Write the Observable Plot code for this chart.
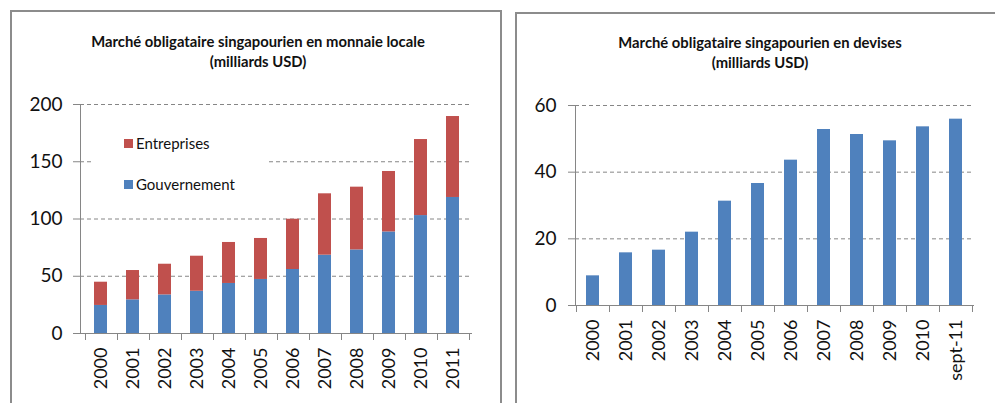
<!DOCTYPE html>
<html>
<head>
<meta charset="utf-8">
<script src="https://cdn.jsdelivr.net/npm/d3@7"></script>
<script src="https://cdn.jsdelivr.net/npm/@observablehq/plot@0.6"></script>
<style>
  html, body { margin: 0; padding: 0; background: #fff; width: 995px; height: 403px; overflow: hidden; font-family: Lato, "DejaVu Sans", sans-serif; }
  .panel { position: absolute; box-sizing: border-box; border: 2px solid #8c8c8c; background: #fff; }
  .title { position: absolute; text-align: center; font-weight: bold; font-size: 14.8px; line-height: 20px; color: #111; }
  .chart { position: absolute; }
  .legend { position: absolute; background: #fff; font-size: 15px; color: #111; }
  .legend .row { position: absolute; left: 0; display: flex; align-items: center; white-space: nowrap; }
  .legend .sw { width: 9px; height: 9px; margin-right: 3px; }
</style>
</head>
<body>
<div class="panel" style="left:10px; top:10px; width:492px; height:500px;"></div>
<div class="panel" style="left:515px; top:12px; width:490px; height:500px;"></div>

<div class="title" style="left:48px; top:31px; width:420px;">Marché obligataire singapourien en monnaie locale<br>(milliards USD)</div>
<div class="title" style="left:550px; top:32px; width:420px;">Marché obligataire singapourien en devises<br>(milliards USD)</div>

<div id="left" class="chart" style="left:12px; top:80px;"></div>
<div id="right" class="chart" style="left:520px; top:80px;"></div>

<div id="legend" class="legend" style="left:93px; top:125px; width:175px; height:75px;"></div>

<script>
// ---- Data ----
const years = ["2000","2001","2002","2003","2004","2005","2006","2007","2008","2009","2010","2011"];
const gouvernement = [24.5, 29.4, 33.7, 36.9, 43.7, 47.2, 55.9, 68.4, 73.0, 88.7, 103.0, 118.8];
const entreprises  = [20.3, 25.6, 26.8, 30.6, 35.8, 35.8, 43.9, 53.6, 54.8, 52.8, 66.4, 70.7];
const seriesNames = ["Gouvernement", "Entreprises"];
const seriesColors = ["#4f81bd", "#c0504d"];
const leftTicks = [0, 50, 100, 150, 200];

const devisesCats = ["2000","2001","2002","2003","2004","2005","2006","2007","2008","2009","2010","sept-11"];
const devises = [8.9, 15.8, 16.6, 22.0, 31.3, 36.6, 43.6, 52.8, 51.3, 49.4, 53.6, 55.9];
const rightTicks = [0, 20, 40, 60];

const axisColor = "#868686";

// Excel-like axis frame: left axis line, bottom axis line, ticks at category boundaries
function excelAxes() {
  return (index, scales, values, dimensions) => {
    const {width, height, marginLeft, marginRight, marginTop, marginBottom} = dimensions;
    const x = scales.x;
    const dom = x.domain();
    const bw = typeof x.bandwidth === "function" ? x.bandwidth() : x.bandwidth;
    const step = dom.length > 1 ? x(dom[1]) - x(dom[0]) : bw;
    const off = (step - bw) / 2;
    const yb = height - marginBottom;
    const g = d3.create("svg:g").attr("stroke", axisColor).attr("stroke-width", 1).attr("fill", "none");
    g.append("line").attr("x1", marginLeft + 0.5).attr("x2", marginLeft + 0.5).attr("y1", marginTop).attr("y2", yb);
    g.append("line").attr("x1", marginLeft).attr("x2", width - marginRight).attr("y1", yb + 0.5).attr("y2", yb + 0.5);
    const bounds = dom.map(d => x(d) - off);
    bounds.push(x(dom[dom.length - 1]) + bw + off);
    for (const b of bounds) {
      const xx = Math.round(b) + 0.5;
      g.append("line").attr("x1", xx).attr("x2", xx).attr("y1", yb).attr("y2", yb + 7);
    }
    return g.node();
  };
}

// ---- Left chart (stacked) ----
const stacked = [];
years.forEach((y, i) => {
  stacked.push({year: y, series: seriesNames[0], value: gouvernement[i]});
  stacked.push({year: y, series: seriesNames[1], value: entreprises[i]});
});

const left = Plot.plot({
  width: 480,
  height: 323,
  marginLeft: 68,
  marginRight: 20,
  marginTop: 24,
  marginBottom: 70,
  style: {fontFamily: "Lato, sans-serif", color: "#111", background: "transparent"},
  x: {domain: years, paddingInner: 0.6, paddingOuter: 0.3, label: null},
  y: {domain: [0, 200], label: null},
  color: {domain: seriesNames, range: seriesColors},
  marks: [
    Plot.gridY(leftTicks, {stroke: axisColor, strokeOpacity: 1, strokeDasharray: "4,3"}),
    Plot.barY(stacked, {x: "year", y: "value", fill: "series"}),
    Plot.axisY(leftTicks, {tickSize: 7, tickPadding: 11, stroke: axisColor, fontSize: 19, label: null}),
    Plot.axisX({tickSize: 0, tickPadding: 14, tickRotate: -90, fontSize: 18, label: null}),
    excelAxes()
  ]
});
document.getElementById("left").appendChild(left);

// ---- Right chart ----
const devData = devisesCats.map((c, i) => ({cat: c, value: devises[i]}));
const right = Plot.plot({
  width: 470,
  height: 323,
  marginLeft: 55,
  marginRight: 16,
  marginTop: 25,
  marginBottom: 98,
  style: {fontFamily: "Lato, sans-serif", color: "#111", background: "transparent"},
  x: {domain: devisesCats, paddingInner: 0.6, paddingOuter: 0.3, label: null},
  y: {domain: [0, 60], label: null},
  marks: [
    Plot.gridY(rightTicks, {stroke: axisColor, strokeOpacity: 1, strokeDasharray: "4,3"}),
    Plot.barY(devData, {x: "cat", y: "value", fill: seriesColors[0]}),
    Plot.axisY(rightTicks, {tickSize: 7, tickPadding: 12, stroke: axisColor, fontSize: 19, label: null}),
    Plot.axisX({tickSize: 0, tickPadding: 14, tickRotate: -90, fontSize: 18, label: null}),
    excelAxes()
  ]
});
document.getElementById("right").appendChild(right);

// ---- Legend (reverse order, like the reference) ----
const legend = document.getElementById("legend");
[[1, 9], [0, 50]].forEach(([i, top]) => {
  const row = document.createElement("div");
  row.className = "row";
  row.style.left = "31px";
  row.style.top = top + "px";
  const sw = document.createElement("div");
  sw.className = "sw";
  sw.style.background = seriesColors[i];
  const t = document.createElement("span");
  t.textContent = seriesNames[i];
  row.appendChild(sw);
  row.appendChild(t);
  legend.appendChild(row);
});
</script>
</body>
</html>
